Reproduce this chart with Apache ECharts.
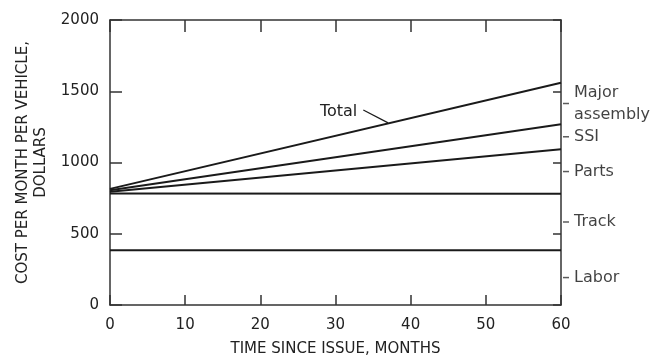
<!DOCTYPE html>
<html>
<head>
<meta charset="utf-8">
<script src="https://cdn.jsdelivr.net/npm/echarts@6/dist/echarts.min.js"></script>
<style>html,body{margin:0;padding:0;background:#fff}#c{width:657px;height:357px}</style>
</head>
<body>
<div id="c"></div>
<script>
// Months since issue (x) and cost per month per vehicle (y), start and end of each line
const months = [0, 60];
const labor = [385, 385];
const track = [782, 780];
const parts = [795, 1093];
const ssi = [805, 1268];
const total = [815, 1560];
const xTicks = [0, 10, 20, 30, 40, 50, 60];
const yTicks = [0, 500, 1000, 1500, 2000];
// Band labels at right (between successive lines at x = 60)
const bandNames = ['Labor', 'Track', 'Parts', 'SSI', 'Major\nassembly'];
// "Total" callout: label anchor and point on the Total line
const totalLeader = [[33.7, 1368], [37, 1278]];

const FONT = 'DejaVu Sans';
const TXT = '#222';
const LINE = '#1a1a1a';

const ends = [0, labor[1], track[1], parts[1], ssi[1], total[1]];
const bandData = bandNames.map((n, i) => ({ value: [months[1], (ends[i] + ends[i + 1]) / 2], name: n }));

function lineSeries(name, vals) {
  return {
    name, type: 'line', symbol: 'none', silent: true,
    data: months.map((m, i) => [m, vals[i]]),
    lineStyle: { color: LINE, width: 2 }, z: 3
  };
}

const chart = echarts.init(document.getElementById('c'), null, { renderer: 'canvas' });
const axisLine = { show: true, onZero: false, lineStyle: { color: '#333', width: 1.5 } };
const tickIn = (len) => ({ show: true, inside: true, length: len, lineStyle: { color: '#333', width: 1.5 } });

chart.setOption({
  animation: false,
  backgroundColor: '#fff',
  textStyle: { fontFamily: FONT },
  grid: { left: 110, top: 20, right: 96, bottom: 52, containLabel: false, outerBoundsMode: 'none' },
  xAxis: [
    {
      type: 'value', position: 'bottom', min: xTicks[0], max: xTicks[xTicks.length - 1], interval: 10,
      axisLine, axisTick: tickIn(10), splitLine: { show: false },
      axisLabel: { color: TXT, fontSize: 15, fontFamily: FONT, margin: 13 },
      name: 'TIME SINCE ISSUE, MONTHS', nameLocation: 'middle', nameGap: 37,
      nameTextStyle: { color: TXT, fontSize: 15, fontFamily: FONT }
    },
    {
      type: 'value', position: 'top', min: xTicks[0], max: xTicks[xTicks.length - 1], interval: 10,
      axisLine, axisTick: tickIn(12), splitLine: { show: false }, axisLabel: { show: false }
    }
  ],
  yAxis: [
    {
      type: 'value', position: 'left', min: yTicks[0], max: yTicks[yTicks.length - 1], interval: 500,
      axisLine, axisTick: tickIn(12), splitLine: { show: false },
      axisLabel: { color: TXT, fontSize: 15, fontFamily: FONT, margin: 11, formatter: v => String(v) },
      name: 'COST PER MONTH PER VEHICLE,\nDOLLARS', nameLocation: 'middle', nameGap: 60, nameRotate: 90,
      nameTextStyle: { color: TXT, fontSize: 15, fontFamily: FONT, lineHeight: 18, align: 'center' }
    },
    {
      type: 'value', position: 'right', min: yTicks[0], max: yTicks[yTicks.length - 1], interval: 500,
      axisLine, axisTick: tickIn(8), splitLine: { show: false }, axisLabel: { show: false }
    }
  ],
  series: [
    lineSeries('Labor', labor),
    lineSeries('Track', track),
    lineSeries('Parts', parts),
    lineSeries('SSI', ssi),
    lineSeries('Total', total),
    {
      name: 'bands', type: 'scatter', silent: true, data: bandData,
      symbol: 'rect', symbolSize: [6, 1.5], symbolOffset: [5, 0],
      itemStyle: { color: '#333' },
      label: {
        show: true, position: 'right', distance: 5, formatter: p => p.name,
        color: '#111', fontSize: 16, fontFamily: FONT, lineHeight: 22, align: 'left'
      }
    },
    {
      name: 'leader', type: 'line', symbol: 'none', silent: true,
      data: totalLeader,
      lineStyle: { color: LINE, width: 1.2 },
      markPoint: {
        symbol: 'circle', symbolSize: 0,
        data: [{ coord: totalLeader[0], name: 'Total' }],
        label: { show: true, position: 'left', distance: 6, offset: [0, 2], formatter: 'Total', color: TXT, fontSize: 16, fontFamily: FONT }
      }
    }
  ]
});
</script>
</body>
</html>
